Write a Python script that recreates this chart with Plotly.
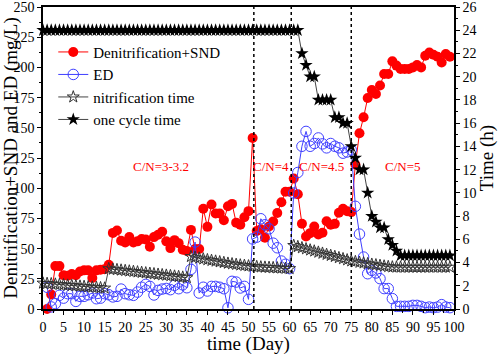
import plotly.graph_objects as go

# ---- data ----
days_cn = list(range(1, 100))
denit_snd = [0, 12, 35.5, 35.5, 28, 27.5, 29, 28, 31, 32, 32, 25.6, 32, 32.5, 33, 36.6, 63, 65, 56.5, 55,
             59.5, 55, 56, 58, 57.5, 51.5, 59.5, 61.5, 64, 56, 50.4, 57, 54.5, 49, 48, 65.5, 49.6, 49.6, 83, 68,
             86.5, 79, 79, 73.5, 85, 87, 71.5, 69.7, 76, 81, 141.6, 64.5, 66, 59, 68.3, 72.5, 79.5, 88.4, 97, 97,
             108, 95, 70.6, 60, 62.8, 68.3, 61.7, 63.1, 72.7, 69.7, 70.5, 79.7, 83, 81, 80.2, 119.6, 145.5, 158.7, 174.7, 181.3,
             178, 185, 194.5, 194.5, 205, 201.5, 198.7, 198.7, 198.7, 200, 202, 200, 209.7, 212.4, 210.5, 208.8, 204, 211, 208.8]
ed = [18, 1.7, 4.4, 11.3, 9, 12.7, 12.7, 6.3, 10.5, 10.5, 11.8, 13.2, 8.5, 9, 12.7, 11.8, 10, 10.5, 16.5, 12.7,
      11.8, 11.3, 14, 18, 20.4, 18.7, 11.6, 15.4, 16.5, 17, 16, 19.6, 16.8, 20, 17.6, 32.8, 55.4, 13.2, 18, 14.9,
      18.7, 18.7, 18, 16.8, 1, 22.9, 22.3, 17.4, 18.7, 8, 58, 59.5, 74.7, 69.7, 66.4, 54.5, 50.7, 39.7, 37, 33.4,
      96, 113, 134.7, 147, 134.7, 137, 141.6, 136.7, 133.4, 137, 134.7, 133.4, 129, 130, 131.7, 85, 62, 43, 29.2, 32,
      29.8, 25.1, 16.9, 16.9, 8.6, 2.2, 2.2, 2.2, 2.2, 3, 3, 2.2, 1.1, 1.6, 1.1, 1.6, 3.6, 1.6, 1.1]

days_t = list(range(0, 100))
nitrif_time = [2.23, 2.20, 2.17, 2.14, 2.11, 2.08, 2.05, 2.03, 2.00, 1.97, 1.94, 1.91, 1.88, 1.86, 1.83, 1.80,
               3.47, 3.43, 3.39, 3.35, 3.31, 3.27, 3.23, 3.19, 3.15, 3.11, 3.07, 3.03, 2.99, 2.95, 2.91, 2.87, 2.83, 2.79, 2.74, 2.70,
               4.52, 4.45, 4.38, 4.31, 4.24, 4.18, 4.12, 4.06, 4.00, 3.94, 3.89, 3.84, 3.79, 3.75, 3.71,
               3.68, 3.65, 3.62, 3.60, 3.58, 3.56, 3.54, 3.52, 3.50, 3.48,
               5.47, 5.37, 5.27, 5.18, 5.08, 4.99, 4.89, 4.80, 4.70, 4.61, 4.52, 4.42, 4.33, 4.23, 4.14,
               4.08, 4.02, 3.96, 3.90, 3.85, 3.80, 3.75, 3.70, 3.65, 3.62,
               3.60, 3.60, 3.60, 3.60, 3.60, 3.60, 3.60, 3.60, 3.60, 3.60, 3.60, 3.60, 3.60, 3.60]
cycle_time = [24] * 63 + [22, 21, 20, 20, 18, 18, 18, 18, 16.5, 16.5, 16, 16, 14, 13, 12, 12, 10, 8, 7.5, 7, 7, 6, 5.5, 5,
                          4.6, 4.6, 4.6, 4.6, 4.6, 4.6, 4.6, 4.6, 4.6, 4.6, 4.6, 4.6, 4.6]

phase_bounds = [51.3, 60.4, 75]
cn_labels = ["C/N=3-3.2", "C/N=4", "C/N=4.5", "C/N=5"]
cn_label_x = [28.8, 55.5, 67.7, 87.5]

FONT = "Liberation Serif"
RED = "#ff0000"
BLUE = "#3f3fff"

fig = go.Figure()
fig.add_trace(go.Scatter(x=days_cn, y=denit_snd, name="Denitrification+SND", mode="lines+markers",
                         line=dict(color=RED, width=1), marker=dict(color=RED, size=10, symbol="circle"),
                         cliponaxis=False))
fig.add_trace(go.Scatter(x=days_cn, y=ed, name="ED", mode="lines+markers",
                         line=dict(color=BLUE, width=1),
                         marker=dict(color=BLUE, size=10.5, symbol="circle-open", line=dict(width=1)),
                         cliponaxis=False))
fig.add_trace(go.Scatter(x=days_t, y=nitrif_time, name="nitrification time", mode="lines+markers", yaxis="y2",
                         line=dict(color="#444444", width=1),
                         marker=dict(color="#333333", size=9, symbol="star-open", line=dict(width=1)),
                         cliponaxis=False))
fig.add_trace(go.Scatter(x=days_t, y=cycle_time, name="one cycle time", mode="lines+markers", yaxis="y2",
                         line=dict(color="#444444", width=1),
                         marker=dict(color="#000000", size=10, symbol="star"),
                         cliponaxis=False))

for xb in phase_bounds:
    fig.add_shape(type="line", xref="x", yref="paper", x0=xb, x1=xb, y0=0, y1=1,
                  line=dict(color="black", width=1.5, dash="dot"))

for txt, xl in zip(cn_labels, cn_label_x):
    fig.add_annotation(x=xl, y=118, xref="x", yref="y", text=txt, showarrow=False,
                       font=dict(family=FONT, size=13, color=RED))

axis_common = dict(showline=True, linecolor="black", linewidth=1.5, ticks="outside", ticklen=4,
                   tickwidth=1.2, tickcolor="black", showgrid=False, zeroline=False,
                   ticklabeloverflow="allow",
                   tickfont=dict(family=FONT, size=14, color="black"), automargin=False)

fig.update_layout(
    width=498, height=355,
    margin=dict(l=43, r=44, t=7, b=46),
    paper_bgcolor="white", plot_bgcolor="white",
    font=dict(family=FONT, color="black"),
    showlegend=True,
    legend=dict(x=0.025, y=0.905, xanchor="left", yanchor="top", bgcolor="rgba(0,0,0,0)",
                font=dict(family=FONT, size=15, color="black"), tracegroupgap=0, itemwidth=30),
    xaxis=dict(range=[0, 100], dtick=5, mirror=True,
               title=dict(text="time (Day)", font=dict(family=FONT, size=19), standoff=1),
               minor=dict(dtick=2.5, ticks="outside", ticklen=2.5, tickcolor="black"),
               **axis_common),
    yaxis=dict(range=[0, 250], dtick=25,
               title=dict(text="Denitrification+SND and ED (mg/L)", font=dict(family=FONT, size=19), standoff=2),
               minor=dict(dtick=12.5, ticks="outside", ticklen=2.5, tickcolor="black"),
               **axis_common),
    yaxis2=dict(range=[0, 26], dtick=2, overlaying="y", side="right", anchor="x",
                title=dict(text="Time (h)", font=dict(family=FONT, size=19), standoff=4),
                minor=dict(dtick=1, ticks="outside", ticklen=2.5, tickcolor="black"),
                **axis_common),
)

fig.write_html("out.html", config={"displayModeBar": False},
               post_script="document.body.style.margin='0';document.body.style.padding='0';")
